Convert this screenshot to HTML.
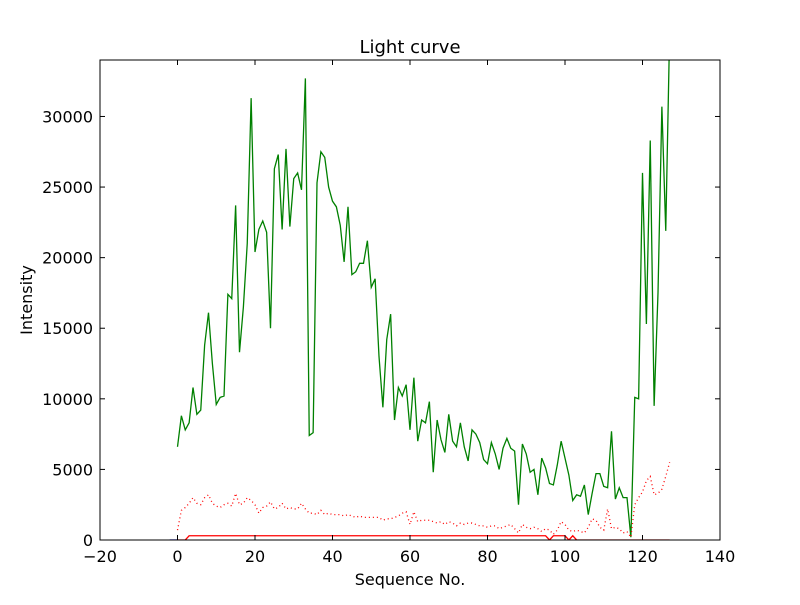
<!DOCTYPE html>
<html><head><meta charset="utf-8"><style>
body{margin:0;background:#fff;}
svg text{font-family:"DejaVu Sans","Liberation Sans",sans-serif;}
</style></head><body>
<svg id="chart" width="800" height="600" xmlns="http://www.w3.org/2000/svg">
<rect width="800" height="600" fill="#fff"/>
<text x="410" y="53" font-size="18" text-anchor="middle">Light curve</text>
<text x="410" y="585" font-size="16" text-anchor="middle">Sequence No.</text>
<text x="32" y="300" font-size="16" text-anchor="middle" transform="rotate(-90 32 300)">Intensity</text>
<g id="plot"></g>
</svg>
<script>
const greenVals=[6600,8800,7800,8300,10800,8900,9200,13800,16100,12500,9600,10100,10200,17400,17100,23700,13300,16500,21000,31300,20400,22000,22600,21800,15000,26300,27300,22000,27700,22200,25600,26000,24800,32700,7400,7600,25300,27500,27100,25000,24000,23600,22300,19700,23600,18800,19000,19600,19600,21200,17900,18500,13000,9400,14200,16000,8500,10800,10200,11000,7800,11500,7000,8500,8300,9800,4800,8500,7100,6200,8900,7000,6600,8300,6600,5600,7800,7500,6900,5700,5400,6900,6100,5000,6500,7200,6500,6300,2500,6800,6100,4800,5000,3200,5800,5100,4000,3900,5300,7000,5800,4600,2800,3200,3100,3900,1800,3300,4700,4700,3800,3700,7700,2900,3700,3000,3000,200,10100,10000,26000,15300,28300,9500,17500,30700,21900,36000];
const dottedVals=[700,2100,2300,2600,3000,2600,2500,3000,3200,2600,2400,2300,2500,2600,2400,3300,2500,2600,3000,2800,2500,1900,2300,2400,2700,2200,2300,2600,2200,2300,2200,2200,2600,2200,1900,1900,1800,2100,1800,1900,1800,1800,1800,1700,1800,1700,1600,1700,1600,1600,1600,1600,1600,1400,1500,1500,1600,1700,1900,2000,1100,2000,1300,1400,1400,1400,1300,1200,1300,1100,1300,1200,1000,1200,1100,1200,1200,1100,1000,1000,900,1000,1000,800,900,1000,1100,800,500,1100,900,800,900,800,600,800,700,400,700,1300,1100,700,600,700,600,500,900,1500,1400,900,700,2200,800,900,800,500,600,200,2500,3000,3400,4200,4500,3200,3300,3600,4500,5500];
const solidVals=[0,0,0,300,300,300,300,300,300,300,300,300,300,300,300,300,300,300,300,300,300,300,300,300,300,300,300,300,300,300,300,300,300,300,300,300,300,300,300,300,300,300,300,300,300,300,300,300,300,300,300,300,300,300,300,300,300,300,300,300,300,300,300,300,300,300,300,300,300,300,300,300,300,300,300,300,300,300,300,300,300,300,300,300,300,300,300,300,300,300,300,300,300,300,300,300,0,300,300,300,300,0,300,0,0,0,0,0,0,0,0,0,0,0,0,0,0,0,0,0,0,0,0,0,0,0,0,0];
const blueX=[-2,-1,0];
const blueVals=[0,0,0];
const xTicks=[-20,0,20,40,60,80,100,120,140];
const yTicks=[0,5000,10000,15000,20000,25000,30000];
const X0=100,X1=720,Y0=60,Y1=540,xmin=-20,xmax=140,ymin=0,ymax=34000;
const sx=v=>X0+(v-xmin)/(xmax-xmin)*(X1-X0);
const sy=v=>Y1-(v-ymin)/(ymax-ymin)*(Y1-Y0);
const NS="http://www.w3.org/2000/svg";
const plot=document.getElementById('plot');
function mk(t,a){const e=document.createElementNS(NS,t);for(const k in a)e.setAttribute(k,a[k]);return e;}
const defs=mk('defs',{});const cp=mk('clipPath',{id:'clip'});cp.appendChild(mk('rect',{x:X0,y:Y0,width:X1-X0,height:Y1-Y0}));defs.appendChild(cp);plot.appendChild(defs);
const g=mk('g',{'clip-path':'url(#clip)'});plot.appendChild(g);
function line(xs,ys,color,dash,name){
  const pts=ys.map((v,i)=>sx(xs[i]).toFixed(2)+','+sy(v).toFixed(2)).join(' ');
  const p=mk('polyline',{points:pts,fill:'none',stroke:color,'stroke-width':1.3});
  if(dash)p.setAttribute('stroke-dasharray',dash);
  
  
  g.appendChild(p);
}
const idx=greenVals.map((v,i)=>i);
line(idx,greenVals,'#008000',null,'green-series-line');
line(idx,dottedVals,'#ff0000','1,3','red-dotted-series-line');
line(idx,solidVals,'#ff0000',null,'red-solid-series-line');
line(blueX,blueVals,'#0000ff',null,'blue-series-line');
const frame=mk('rect',{x:X0,y:Y0,width:X1-X0,height:Y1-Y0,fill:'none',stroke:'#000','stroke-width':1});


plot.appendChild(frame);
xTicks.forEach(t=>{
  const x=sx(t);
  plot.appendChild(mk('line',{x1:x,x2:x,y1:Y1,y2:Y1-5,stroke:'#000'}));
  plot.appendChild(mk('line',{x1:x,x2:x,y1:Y0,y2:Y0+5,stroke:'#000'}));
  const tx=mk('text',{x:x,y:Y1+22,'font-size':16,'text-anchor':'middle'});
  tx.textContent=t===0?'0':(t<0?'\u2212'+Math.abs(t):t);
  
  
  plot.appendChild(tx);
});
yTicks.forEach(t=>{
  const y=sy(t);
  plot.appendChild(mk('line',{x1:X0,x2:X0+5,y1:y,y2:y,stroke:'#000'}));
  plot.appendChild(mk('line',{x1:X1,x2:X1-5,y1:y,y2:y,stroke:'#000'}));
  const tx=mk('text',{x:X0-7,y:y+6,'font-size':16,'text-anchor':'end'});
  tx.textContent=t;
  
  
  plot.appendChild(tx);
});
</script>
</body></html>
